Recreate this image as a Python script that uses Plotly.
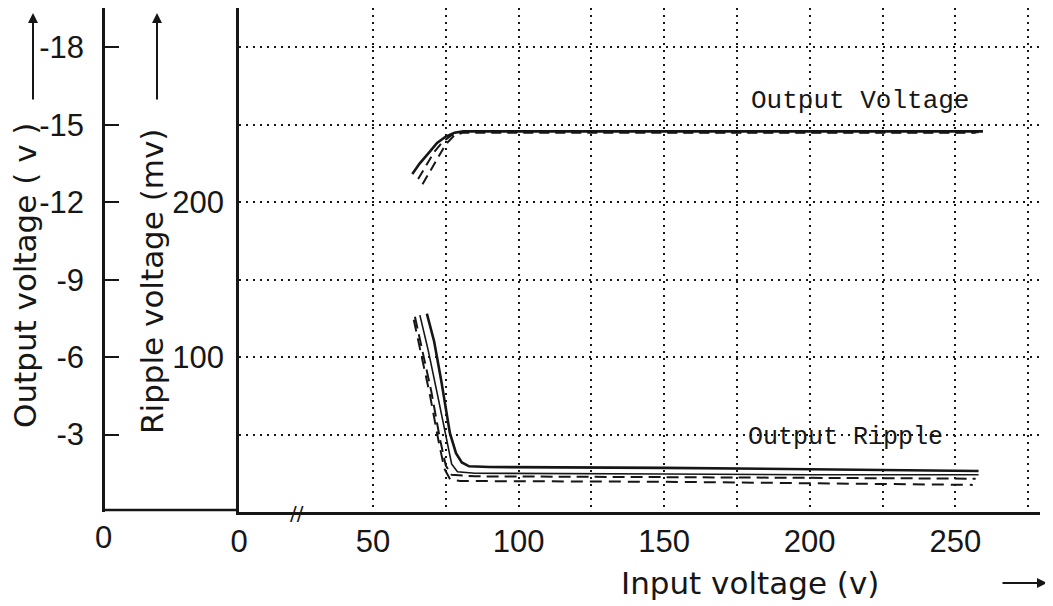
import plotly.graph_objects as go

# ---- data ----
# output voltage curves (V) vs input voltage (V)
vin_out_a = [63.5, 66, 69, 72, 75, 78, 81, 90, 120, 150, 180, 210, 240, 259.5]
vout_a = [-13.1, -13.5, -13.9, -14.3, -14.55, -14.7, -14.75, -14.75, -14.75, -14.75, -14.75, -14.75, -14.75, -14.75]
vin_out_b = [65.5, 68, 71, 74, 77, 80, 90, 150, 258]
vout_b = [-12.9, -13.4, -13.95, -14.35, -14.6, -14.72, -14.75, -14.72, -14.72]
vin_out_c = [67, 69.5, 72, 75, 78, 81, 90, 150, 257]
vout_c = [-12.7, -13.2, -13.7, -14.25, -14.6, -14.7, -14.7, -14.7, -14.7]

# output ripple curves (mV) vs input voltage (V)
vin_rip_a = [68.5, 71, 73.5, 76.4, 78.5, 80.5, 83, 90, 150, 200, 258]
rip_a = [128, 110, 84, 51, 38, 32, 29.5, 29, 28.5, 27.5, 26.5]
vin_rip_b = [66.1, 69, 72, 75.4, 77, 79, 85, 150, 200, 258]
rip_b = [127, 104, 77, 46, 31, 26, 25, 24.5, 24, 24]
vin_rip_c = [64.4, 67, 70, 73, 75, 77, 85, 150, 200, 257]
rip_c = [126, 104, 78, 47, 30, 24, 23, 22.5, 22, 21.5]
vin_rip_d = [64, 66.5, 69.5, 72.5, 74.5, 76.5, 80, 150, 200, 256]
rip_d = [124, 103, 76, 46, 28, 21, 20, 19.5, 18.5, 17.5]

x_grid = [50, 75, 100, 125, 150, 175, 200, 225, 250, 275]
x_labels = ["50", "", "100", "", "150", "", "200", "", "250", ""]
rip_grid = [50, 100, 150, 200, 250, 300]
rip_labels = ["", "100", "", "200", "", ""]
vout_ticks = [-3, -6, -9, -12, -15, -18]
vout_labels = ["-3", "-6", "-9", "-12", "-15", "-18"]

# ---- page geometry ----
# the html body has an 8px margin, so screen position = figure position + 8
OFF = 8
W, H = 1053 - OFF, 606 - OFF
# plot box on screen: x 239..1040, y 8..512 (outer axis box starts at x=20)
ML, MR, MT, MB = 20 - OFF, 1053 - 1040, 8 - OFF, 606 - 512
PW = W - ML - MR
PH = H - MT - MB


def px(x):
    # screen x -> paper fraction
    return (x - OFF - ML) / PW


def py(y):
    # screen y -> paper fraction
    return (H - MB - (y - OFF)) / PH


X_LO, X_HI = 3.97, 279.1
INK = "#161616"
TICKFONT = dict(family="Liberation Sans, DejaVu Sans", size=31, color=INK)
GRID = dict(showgrid=True, gridcolor=INK, gridwidth=1.7, griddash="2px,5px")

fig = go.Figure()

for xs, ys, dash, w in [(vin_out_a, vout_a, "solid", 2.6),
                        (vin_out_b, vout_b, "10px,6px", 2),
                        (vin_out_c, vout_c, "10px,6px", 2)]:
    fig.add_trace(go.Scatter(x=xs, y=ys, yaxis="y2", mode="lines",
                             line=dict(color=INK, width=w, dash=dash)))

for xs, ys, dash, w in [(vin_rip_a, rip_a, "solid", 2.6),
                        (vin_rip_b, rip_b, "solid", 1.6),
                        (vin_rip_c, rip_c, "12px,6px", 2),
                        (vin_rip_d, rip_d, "12px,7px", 2)]:
    fig.add_trace(go.Scatter(x=xs, y=ys, mode="lines",
                             line=dict(color=INK, width=w, dash=dash)))

fig.update_layout(
    width=W, height=H,
    margin=dict(l=ML, r=MR, t=MT, b=MB, autoexpand=False),
    paper_bgcolor="white", plot_bgcolor="white",
    showlegend=False,
    xaxis=dict(
        domain=[px(239), 1], range=[X_LO, X_HI], automargin=False,
        tickvals=[X_LO] + x_grid, ticktext=["0"] + x_labels,
        ticks="", tickfont=TICKFONT, ticklabelstandoff=0,
        showline=True, linecolor=INK, linewidth=2.5,
        zeroline=False, **GRID,
    ),
    yaxis=dict(
        range=[0, 325.2], automargin=False,
        tickvals=rip_grid, ticktext=rip_labels,
        ticks="", tickfont=TICKFONT, ticklabelstandoff=6,
        showline=True, linecolor=INK, linewidth=2.5,
        zeroline=False, **GRID,
    ),
    yaxis2=dict(
        range=[0, -19.53], overlaying="y", anchor="free", side="left",
        position=px(103), automargin=False,
        tickvals=vout_ticks, ticktext=vout_labels,
        ticks="inside", ticklen=14, tickwidth=2, tickcolor=INK,
        tickfont=TICKFONT, ticklabelstandoff=12,
        showline=True, linecolor=INK, linewidth=2.5,
        showgrid=False, zeroline=False,
    ),
)

# bottom line joining the two vertical axes
fig.add_shape(type="line", xref="paper", yref="paper",
              x0=px(103), x1=px(239), y0=0.004, y1=0.004,
              line=dict(color=INK, width=2.5))

TITLEFONT = dict(family="DejaVu Sans", size=31, color=INK)
notes = [
    dict(text="Output voltage ( v )", x=px(25), y=py(276), textangle=-90, font=TITLEFONT),
    dict(text="Ripple voltage (mv)", x=px(152), y=py(282), textangle=-90, font=TITLEFONT),
    dict(text="Input voltage (v)", x=px(750), y=py(583), font=TITLEFONT),
    dict(text="0", x=px(103), y=py(537), font=TICKFONT),
    dict(text="//", x=px(297), y=py(513), font=dict(family="DejaVu Sans", size=20, color=INK)),
    dict(text="Output Voltage", x=px(860), y=py(101),
         font=dict(family="Liberation Mono", size=26, color=INK)),
    dict(text="Output Ripple", x=px(845), y=py(437),
         font=dict(family="Liberation Mono", size=25, color=INK)),
]
for n in notes:
    fig.add_annotation(xref="paper", yref="paper", showarrow=False,
                       xanchor="center", yanchor="middle", **n)

# direction arrows next to the axis titles
for ax_x in (33, 157):
    fig.add_annotation(xref="paper", yref="paper", x=px(ax_x), y=py(13), text="",
                       showarrow=True, ax=0, ay=88, arrowhead=2, arrowsize=1,
                       arrowwidth=2, arrowcolor=INK)
fig.add_annotation(xref="paper", yref="paper", x=px(1047), y=py(583), text="",
                   showarrow=True, ax=-46, ay=0, arrowhead=2, arrowsize=1,
                   arrowwidth=2, arrowcolor=INK)

fig.write_html("out.html")
